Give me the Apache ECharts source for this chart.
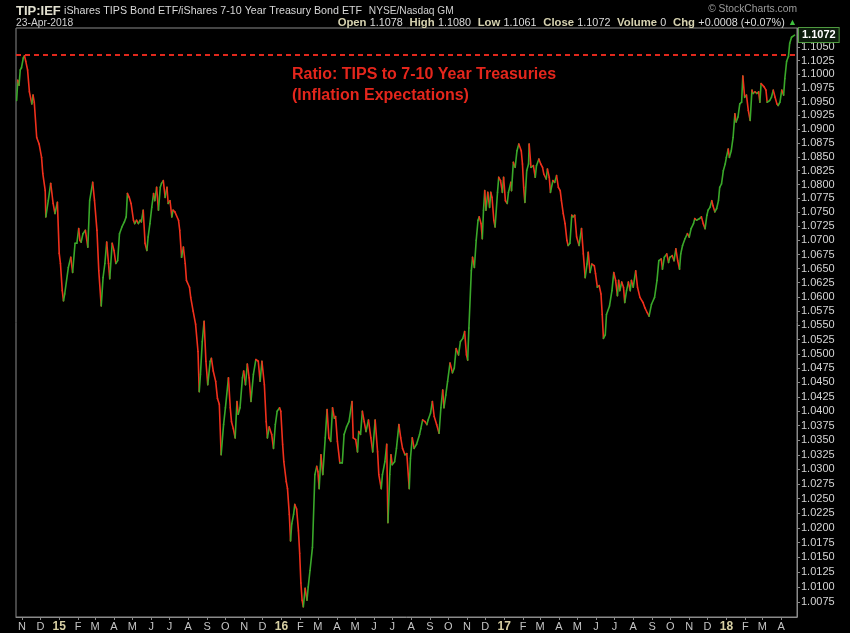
<!DOCTYPE html>
<html><head><meta charset="utf-8">
<script src="https://cdn.jsdelivr.net/npm/echarts@6/dist/echarts.min.js"></script>
<style>html,body{margin:0;padding:0;background:#000;}#c{width:850px;height:633px;}</style>
</head><body><div id="c"></div>
<script>
// ---- data ----
const dates = [
'2014-10-23','2014-10-25','2014-10-27','2014-10-29','2014-10-31','2014-11-03','2014-11-05','2014-11-07','2014-11-10','2014-11-13',
'2014-11-17','2014-11-19','2014-11-21','2014-11-25','2014-11-29','2014-12-03','2014-12-05','2014-12-09','2014-12-10','2014-12-14',
'2014-12-18','2014-12-22','2014-12-25','2014-12-29','2015-01-01','2015-01-03','2015-01-06','2015-01-08','2015-01-10','2015-01-16',
'2015-01-20','2015-01-23','2015-01-27','2015-01-30','2015-02-02','2015-02-04','2015-02-06','2015-02-09','2015-02-13','2015-02-17',
'2015-02-20','2015-02-25','2015-02-28','2015-03-04','2015-03-07','2015-03-11','2015-03-14','2015-03-17','2015-03-20','2015-03-23',
'2015-03-25','2015-03-29','2015-04-01','2015-04-04','2015-04-07','2015-04-10','2015-04-14','2015-04-18','2015-04-21','2015-04-23',
'2015-04-26','2015-04-29','2015-05-03','2015-05-05','2015-05-08','2015-05-11','2015-05-14','2015-05-16','2015-05-19','2015-05-22',
'2015-05-25','2015-05-27','2015-05-30','2015-06-02','2015-06-05','2015-06-07','2015-06-10','2015-06-13','2015-06-16','2015-06-18',
'2015-06-21','2015-06-24','2015-06-27','2015-06-29','2015-07-02','2015-07-05','2015-07-07','2015-07-10','2015-07-16','2015-07-18',
'2015-07-21','2015-07-24','2015-07-27','2015-07-29','2015-08-03','2015-08-05','2015-08-09','2015-08-13','2015-08-17','2015-08-19',
'2015-08-21','2015-08-24','2015-08-27','2015-08-30','2015-09-02','2015-09-06','2015-09-08','2015-09-11','2015-09-15','2015-09-18',
'2015-09-21','2015-09-24','2015-09-28','2015-10-01','2015-10-06','2015-10-09','2015-10-11','2015-10-14','2015-10-17','2015-10-20',
'2015-10-22','2015-10-25','2015-10-29','2015-10-31','2015-11-03','2015-11-06','2015-11-09','2015-11-12','2015-11-16','2015-11-20',
'2015-11-24','2015-11-27','2015-11-30','2015-12-04','2015-12-07','2015-12-09','2015-12-12','2015-12-16','2015-12-19','2015-12-22',
'2015-12-25','2015-12-29','2015-12-31','2016-01-03','2016-01-05','2016-01-09','2016-01-11','2016-01-14','2016-01-16','2016-01-18',
'2016-01-21','2016-01-23','2016-01-26','2016-01-29','2016-01-31','2016-02-02','2016-02-04','2016-02-06','2016-02-09','2016-02-12',
'2016-02-14','2016-02-17','2016-02-21','2016-02-25','2016-02-28','2016-03-01','2016-03-03','2016-03-06','2016-03-09','2016-03-13',
'2016-03-16','2016-03-19','2016-03-22','2016-03-25','2016-03-28','2016-03-30','2016-04-02','2016-04-06','2016-04-10','2016-04-13',
'2016-04-17','2016-04-21','2016-04-26','2016-04-28','2016-05-02','2016-05-05','2016-05-07','2016-05-10','2016-05-13','2016-05-16',
'2016-05-19','2016-05-23','2016-05-27','2016-05-30','2016-06-03','2016-06-07','2016-06-09','2016-06-13','2016-06-15','2016-06-19',
'2016-06-22','2016-06-24','2016-06-27','2016-06-29','2016-07-01','2016-07-05','2016-07-08','2016-07-12','2016-07-15','2016-07-18',
'2016-07-22','2016-07-25','2016-07-29','2016-07-31','2016-08-03','2016-08-06','2016-08-10','2016-08-15','2016-08-17','2016-08-20',
'2016-08-24','2016-08-27','2016-08-29','2016-09-02','2016-09-05','2016-09-08','2016-09-12','2016-09-16','2016-09-19','2016-09-22',
'2016-09-24','2016-09-27','2016-09-30','2016-10-04','2016-10-08','2016-10-11','2016-10-14','2016-10-18','2016-10-21','2016-10-25',
'2016-10-28','2016-10-31','2016-11-02','2016-11-04','2016-11-08','2016-11-10','2016-11-13','2016-11-16','2016-11-19','2016-11-21',
'2016-11-24','2016-11-26','2016-11-28','2016-11-30','2016-12-02','2016-12-05','2016-12-08','2016-12-10','2016-12-12','2016-12-15',
'2016-12-17','2016-12-21','2016-12-23','2016-12-26','2016-12-29','2016-12-31','2017-01-03','2017-01-06','2017-01-08','2017-01-12',
'2017-01-13','2017-01-16','2017-01-19','2017-01-22','2017-01-25','2017-01-29','2017-01-31','2017-02-02','2017-02-04','2017-02-07',
'2017-02-10','2017-02-11','2017-02-14','2017-02-18','2017-02-21','2017-02-23','2017-02-27','2017-03-02','2017-03-05','2017-03-07',
'2017-03-11','2017-03-13','2017-03-16','2017-03-18','2017-03-22','2017-03-25','2017-03-28','2017-03-31','2017-04-03','2017-04-05',
'2017-04-08','2017-04-11','2017-04-14','2017-04-16','2017-04-19','2017-04-22','2017-04-24','2017-04-27','2017-04-30','2017-05-04',
'2017-05-08','2017-05-11','2017-05-14','2017-05-17','2017-05-19','2017-05-22','2017-05-25','2017-05-29','2017-05-31','2017-06-03',
'2017-06-06','2017-06-09','2017-06-11','2017-06-13','2017-06-16','2017-06-18','2017-06-23','2017-06-27','2017-06-30','2017-07-03',
'2017-07-06','2017-07-08','2017-07-10','2017-07-13','2017-07-16','2017-07-18','2017-07-21','2017-07-24','2017-07-27','2017-07-29',
'2017-08-01','2017-08-05','2017-08-08','2017-08-12','2017-08-17','2017-08-20','2017-08-24','2017-08-27','2017-08-31','2017-09-05',
'2017-09-09','2017-09-12','2017-09-16','2017-09-18','2017-09-21','2017-09-25','2017-09-28','2017-09-30','2017-10-04','2017-10-07',
'2017-10-10','2017-10-13','2017-10-16','2017-10-18','2017-10-21','2017-10-25','2017-10-29','2017-11-01','2017-11-04','2017-11-08',
'2017-11-10','2017-11-13','2017-11-18','2017-11-21','2017-11-24','2017-11-27','2017-11-30','2017-12-02','2017-12-05','2017-12-08',
'2017-12-10','2017-12-13','2017-12-16','2017-12-19','2017-12-21','2017-12-24','2017-12-27','2017-12-30','2018-01-01','2018-01-04',
'2018-01-06','2018-01-09','2018-01-12','2018-01-15','2018-01-17','2018-01-20','2018-01-23','2018-01-26','2018-01-28','2018-01-31',
'2018-02-03','2018-02-06','2018-02-09','2018-02-12','2018-02-14','2018-02-17','2018-02-20','2018-02-23','2018-02-25','2018-02-27',
'2018-03-04','2018-03-07','2018-03-09','2018-03-13','2018-03-16','2018-03-19','2018-03-22','2018-03-25','2018-03-27','2018-03-30',
'2018-04-02','2018-04-05','2018-04-07','2018-04-10','2018-04-13','2018-04-15','2018-04-18','2018-04-23'
];
const ratio = [
1.0952,1.0989,1.0980,1.1008,1.1012,1.1030,1.1034,1.1024,1.1008,1.0968,
1.0946,1.0962,1.0949,1.0885,1.0873,1.0849,1.0820,1.0789,1.0742,1.0771,
1.0802,1.0766,1.0748,1.0768,1.0677,1.0659,1.0611,1.0593,1.0605,1.0652,
1.0670,1.0643,1.0695,1.0695,1.0721,1.0700,1.0697,1.0712,1.0718,1.0688,
1.0771,1.0804,1.0771,1.0718,1.0646,1.0584,1.0634,1.0659,1.0697,1.0659,
1.0632,1.0695,1.0682,1.0659,1.0664,1.0712,1.0724,1.0733,1.0742,1.0784,
1.0777,1.0766,1.0736,1.0730,1.0736,1.0730,1.0736,1.0733,1.0754,1.0695,
1.0682,1.0706,1.0730,1.0759,1.0784,1.0771,1.0795,1.0754,1.0795,1.0802,
1.0807,1.0777,1.0795,1.0766,1.0771,1.0742,1.0754,1.0751,1.0736,1.0718,
1.0670,1.0688,1.0659,1.0629,1.0617,1.0599,1.0575,1.0552,1.0504,1.0434,
1.0464,1.0521,1.0557,1.0487,1.0446,1.0487,1.0492,1.0470,1.0452,1.0422,
1.0412,1.0325,1.0377,1.0406,1.0458,1.0406,1.0382,1.0370,1.0354,1.0417,
1.0395,1.0406,1.0458,1.0470,1.0446,1.0482,1.0458,1.0417,1.0464,1.0490,
1.0487,1.0452,1.0487,1.0446,1.0382,1.0354,1.0373,1.0360,1.0336,1.0377,
1.0400,1.0406,1.0400,1.0343,1.0313,1.0279,1.0267,1.0223,1.0178,1.0207,
1.0223,1.0240,1.0232,1.0195,1.0157,1.0107,1.0078,1.0067,1.0098,1.0078,
1.0100,1.0128,1.0167,1.0291,1.0305,1.0296,1.0267,1.0325,1.0291,1.0354,
1.0403,1.0354,1.0348,1.0406,1.0388,1.0391,1.0348,1.0311,1.0311,1.0360,
1.0373,1.0382,1.0417,1.0354,1.0351,1.0330,1.0365,1.0360,1.0400,1.0382,
1.0365,1.0385,1.0354,1.0330,1.0385,1.0330,1.0291,1.0267,1.0291,1.0313,
1.0343,1.0209,1.0291,1.0325,1.0308,1.0313,1.0336,1.0377,1.0354,1.0336,
1.0325,1.0327,1.0267,1.0319,1.0354,1.0336,1.0343,1.0360,1.0370,1.0385,
1.0382,1.0377,1.0385,1.0397,1.0417,1.0391,1.0377,1.0362,1.0406,1.0437,
1.0406,1.0428,1.0452,1.0484,1.0467,1.0475,1.0509,1.0498,1.0521,1.0527,
1.0539,1.0498,1.0489,1.0545,1.0646,1.0670,1.0652,1.0700,1.0736,1.0742,
1.0730,1.0703,1.0754,1.0789,1.0754,1.0786,1.0759,1.0786,1.0777,1.0736,
1.0724,1.0786,1.0813,1.0807,1.0786,1.0813,1.0771,1.0766,1.0786,1.0804,
1.0789,1.0840,1.0831,1.0861,1.0873,1.0861,1.0837,1.0795,1.0768,1.0825,
1.0837,1.0873,1.0831,1.0834,1.0813,1.0834,1.0846,1.0837,1.0831,1.0819,
1.0810,1.0828,1.0813,1.0786,1.0807,1.0804,1.0816,1.0795,1.0789,1.0771,
1.0748,1.0730,1.0700,1.0691,1.0695,1.0745,1.0742,1.0745,1.0706,1.0691,
1.0721,1.0676,1.0634,1.0658,1.0679,1.0643,1.0658,1.0655,1.0641,1.0617,
1.0620,1.0605,1.0569,1.0527,1.0533,1.0569,1.0584,1.0611,1.0643,1.0629,
1.0602,1.0629,1.0611,1.0626,1.0617,1.0590,1.0611,1.0626,1.0611,1.0629,
1.0617,1.0646,1.0617,1.0599,1.0590,1.0581,1.0572,1.0566,1.0587,1.0599,
1.0629,1.0664,1.0667,1.0649,1.0670,1.0676,1.0661,1.0670,1.0673,1.0664,
1.0685,1.0664,1.0649,1.0676,1.0691,1.0703,1.0712,1.0706,1.0721,1.0730,
1.0739,1.0736,1.0739,1.0742,1.0730,1.0721,1.0745,1.0754,1.0759,1.0771,
1.0762,1.0751,1.0757,1.0771,1.0795,1.0801,1.0825,1.0837,1.0849,1.0864,
1.0849,1.0861,1.0885,1.0928,1.0913,1.0922,1.0946,1.0949,1.0997,1.0958,
1.0962,1.0934,1.0916,1.0971,1.0965,1.0968,1.0965,1.0968,1.0949,1.0983,
1.0977,1.0971,1.0949,1.0952,1.0958,1.0971,1.0958,1.0946,1.0943,1.0949,
1.0971,1.0962,1.0992,1.1024,1.1033,1.1057,1.1068,1.1072
];
const yTickLabels = ['1.0075','1.0100','1.0125','1.0150','1.0175','1.0200','1.0225','1.0250','1.0275','1.0300',
'1.0325','1.0350','1.0375','1.0400','1.0425','1.0450','1.0475','1.0500','1.0525','1.0550',
'1.0575','1.0600','1.0625','1.0650','1.0675','1.0700','1.0725','1.0750','1.0775','1.0800',
'1.0825','1.0850','1.0875','1.0900','1.0925','1.0950','1.0975','1.1000','1.1025','1.1050'];
const monthStarts = ['2014-11-01','2014-12-01','2015-01-01','2015-02-01','2015-03-01','2015-04-01','2015-05-01','2015-06-01',
'2015-07-01','2015-08-01','2015-09-01','2015-10-01','2015-11-01','2015-12-01','2016-01-01','2016-02-01','2016-03-01',
'2016-04-01','2016-05-01','2016-06-01','2016-07-01','2016-08-01','2016-09-01','2016-10-01','2016-11-01','2016-12-01',
'2017-01-01','2017-02-01','2017-03-01','2017-04-01','2017-05-01','2017-06-01','2017-07-01','2017-08-01','2017-09-01',
'2017-10-01','2017-11-01','2017-12-01','2018-01-01','2018-02-01','2018-03-01','2018-04-01'];
const monthLabels = ['N','D','15','F','M','A','M','J','J','A','S','O','N','D','16','F','M','A','M','J','J','A','S','O','N','D',
'17','F','M','A','M','J','J','A','S','O','N','D','18','F','M','A'];
const lastClose = 1.1072;
const priorHigh = 1.1035;
const xRange = ['2014-10-22','2018-04-27'];
const yRange = [1.00499, 1.10851];

// ---- build ----
const GREEN = '#3aa82a', RED = '#f0301c';
const FONT = 'Liberation Sans, Arial, sans-serif';
const tms = dates.map(d => Date.parse(d));
const segs = [];
for (let i = 1; i < dates.length; i++) {
  segs.push([tms[i-1], Math.log(ratio[i-1]), tms[i], Math.log(ratio[i]), ratio[i] >= ratio[i-1] ? 1 : 0]);
}
const monthT = monthStarts.map(d => Date.parse(d));
const yTicks = yTickLabels.map(s => Math.log(parseFloat(s)));
function monthFmt(v) {
  let best = 0, bd = Infinity;
  monthT.forEach((m, i) => { const d = Math.abs(m - v); if (d < bd) { bd = d; best = i; } });
  const lab = monthLabels[best];
  return /\d/.test(lab) ? '{y|' + lab + '}' : lab;
}
const chart = echarts.init(document.getElementById('c'), null, {renderer: 'canvas'});
chart.setOption({
  backgroundColor: '#000',
  animation: false,
  textStyle: {fontFamily: FONT},
  grid: {left: 16, right: 53, top: 28, bottom: 16, show: true, borderColor: '#8a8a8a', borderWidth: 1, backgroundColor: '#000'},
  xAxis: {
    type: 'value', min: Date.parse(xRange[0]), max: Date.parse(xRange[1]),
    splitLine: {show: false},
    axisLine: {lineStyle: {color: '#8a8a8a'}},
    axisTick: {customValues: monthT, length: 3, lineStyle: {color: '#8a8a8a'}},
    axisLabel: {customValues: monthT, formatter: monthFmt, color: '#c4c4c4', fontSize: 11, margin: 4, fontFamily: FONT,
      rich: {y: {fontWeight: 'bold', color: '#d8d0a4', fontSize: 12, fontFamily: FONT}}}
  },
  yAxis: [{
    type: 'value', position: 'right', min: Math.log(yRange[0]), max: Math.log(yRange[1]),
    splitLine: {show: false},
    axisLine: {show: true, lineStyle: {color: '#8a8a8a'}},
    axisTick: {customValues: yTicks, length: 3, lineStyle: {color: '#8a8a8a'}},
    axisLabel: {customValues: yTicks, formatter: v => Math.exp(v).toFixed(4), color: '#d4d4d4', fontSize: 11, margin: 4, fontFamily: FONT}
  }, {
    type: 'value', position: 'right', min: Math.log(yRange[0]), max: Math.log(yRange[1]),
    splitLine: {show: false}, axisLine: {show: false}, axisTick: {show: false},
    axisLabel: {customValues: [Math.log(lastClose)], formatter: () => lastClose.toFixed(4), color: '#ffffff', fontWeight: 'bold',
      fontSize: 11, margin: 2, fontFamily: FONT, backgroundColor: '#0c1c0c', borderColor: '#4f9a3f', borderWidth: 1, padding: [2, 3, 1, 3]}
  }],
  series: [{
    type: 'custom',
    coordinateSystem: 'cartesian2d',
    data: segs,
    encode: {x: [0, 2], y: [1, 3]},
    clip: true,
    renderItem: (params, api) => {
      const p0 = api.coord([api.value(0), api.value(1)]);
      const p1 = api.coord([api.value(2), api.value(3)]);
      return {type: 'line', shape: {x1: p0[0], y1: p0[1], x2: p1[0], y2: p1[1]},
        style: {stroke: api.value(4) ? GREEN : RED, lineWidth: 1.6, lineCap: 'round'}};
    },
    markLine: {silent: true, symbol: 'none', precision: 8, label: {show: false},
      lineStyle: {color: '#e0281c', type: [5, 4], width: 2}, data: [{yAxis: Math.log(priorHigh)}]}
  }],
  graphic: [
    {type: 'text', x: 16, y: 11, style: {
      text: '{a|TIP:IEF} {b|iShares TIPS Bond ETF/iShares 7-10 Year Treasury Bond ETF}  {c|NYSE/Nasdaq GM}',
      verticalAlign: 'middle',
      rich: {a: {fontFamily: FONT, fontWeight: 'bold', fontSize: 13, fill: '#e2e0d0'},
             b: {fontFamily: FONT, fontSize: 10.7, fill: '#d8d8d8'},
             c: {fontFamily: FONT, fontSize: 10.2, fill: '#cfcfcf'}}}},
    {type: 'text', x: 16, y: 23, style: {text: '23-Apr-2018', verticalAlign: 'middle', fontFamily: FONT, fontSize: 10.3, fill: '#d0d0d0'}},
    {type: 'text', x: 797, y: 9, style: {text: '\u00a9 StockCharts.com', align: 'right', verticalAlign: 'middle', fontFamily: FONT, fontSize: 10.3, fill: '#9c9c9c'}},
    {type: 'text', x: 797, y: 23, style: {
      text: '{l|Open} {v|1.1078}  {l|High} {v|1.1080}  {l|Low} {v|1.1061}  {l|Close} {v|1.1072}  {l|Volume} {v|0}  {l|Chg} {v|+0.0008 (+0.07%)} {t|\u25B2}',
      align: 'right', verticalAlign: 'middle',
      rich: {l: {fontFamily: FONT, fontWeight: 'bold', fontSize: 11.3, fill: '#d6d2b0'},
             v: {fontFamily: FONT, fontSize: 10.8, fill: '#dcdcdc'},
             t: {fontFamily: FONT, fontSize: 9, fill: '#3fbf3f'}}}},
    {type: 'text', x: 292, y: 64.5, style: {
      text: 'Ratio: TIPS to 7-10 Year Treasuries\n(Inflation Expectations)', verticalAlign: 'top',
      fontFamily: FONT, fontWeight: 'bold', fontSize: 16, lineHeight: 21, fill: '#e4261c'}}
  ]
});
</script>
</body></html>
